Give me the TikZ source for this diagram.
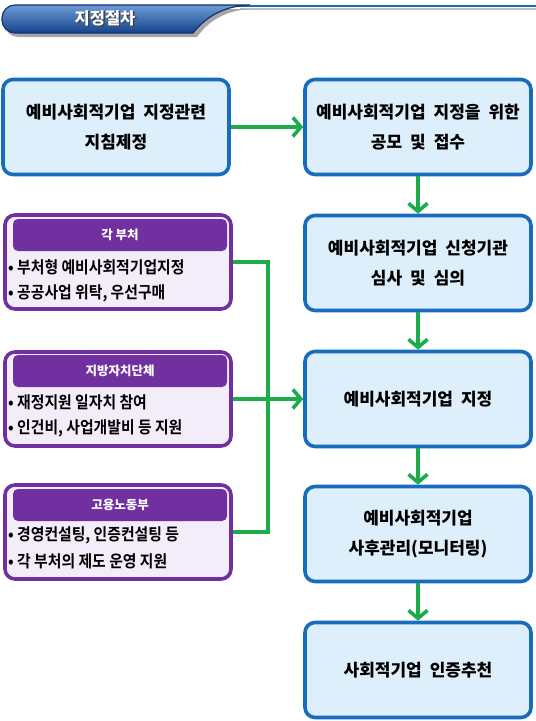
\documentclass[tikz,border=0pt]{standalone}
\usepackage{fontspec}
\setmainfont{Noto Sans CJK KR}
\newfontfamily\narrowkr{Noto Sans CJK KR Bold}[FakeStretch=0.9]
\newcommand\widesp{\spaceskip=8pt plus 2pt\relax}
\usepackage{tikz}
\usetikzlibrary{arrows.meta}
\definecolor{stepblue}{RGB}{24,108,190}
\definecolor{stepfill}{RGB}{222,239,252}
\definecolor{orgpurple}{RGB}{112,48,160}
\definecolor{orgfill}{RGB}{243,237,249}
\definecolor{flowgreen}{RGB}{28,172,76}
\definecolor{bannerhi}{RGB}{110,155,215}
\definecolor{bannerlo}{RGB}{20,66,138}
\tikzset{
  stepbox/.style={draw=stepblue,fill=stepfill,line width=3.6pt,rounded corners=10pt,
    minimum width=226pt,minimum height=95pt,align=center,inner sep=0pt,
    font={\fontsize{17pt}{30pt}\selectfont\bfseries\widesp}},
  orgbox/.style={draw=orgpurple,fill=orgfill,line width=3.6pt,rounded corners=10pt,
    minimum width=226pt,minimum height=94pt,inner sep=0pt},
  orghead/.style={fill=orgpurple,rounded corners=5pt,minimum width=214pt,minimum height=32pt,
    inner sep=0pt,text=white,font=\fontsize{12.5pt}{14pt}\selectfont\bfseries},
  orgitem/.style={anchor=west,inner sep=0pt,font=\narrowkr\fontsize{16.5pt}{18pt}\selectfont},
  flow/.style={draw=flowgreen,line width=3.6pt},
  flowarrow/.style={flow,-{Straight Barb[length=8pt,width=19pt]}}
}

\begin{document}
\begin{tikzpicture}[x=1pt,y=-1pt]

      \useasboundingbox[fill=white] (0,0) rectangle (536,721);

      \fill[black!25] (240,8) -- (536,8) -- (536,10) -- (240,10) -- cycle;
      \draw[stepblue,line width=2pt] (230,6) -- (536,6);
      \fill[black!35,rounded corners=13pt] (104,37) -- (5,37) -- (5,9) -- (104,9)
        [sharp corners] -- (252,9) .. controls (224,10) and (208,22) .. (197,37) -- cycle;
      \shade[top color=bannerhi,bottom color=bannerlo,draw=bannerlo!80!black,line width=1.2pt,rounded corners=13pt]
        (100,33) -- (2,33) -- (2,5) -- (100,5)
        [sharp corners] -- (250,5) .. controls (222,6) and (205,18) .. (193,33) -- cycle;
      \node[text=black!75,font=\fontsize{16.5pt}{18pt}\selectfont\bfseries] (ttlshadow) at (106.5,19.5) {지정절차};
      \node[text=white,font=\fontsize{16.5pt}{18pt}\selectfont\bfseries] (ttl) at (105,18) {지정절차};

      \node[stepbox] (s0) at (116,127) {예비사회적기업 지정관련\\지침제정};
      \node[stepbox] (s1) at (418,127) {예비사회적기업 지정을 위한\\공모 및 접수};
      \node[stepbox] (s2) at (418,263) {예비사회적기업 신청기관\\심사 및 심의};
      \node[stepbox] (s3) at (418,399) {예비사회적기업 지정};
      \node[stepbox] (s4) at (418,534) {예비사회적기업\\사후관리(모니터링)};
      \node[stepbox] (s5) at (418,670) {사회적기업 인증추천};

      \node[orgbox] (o1) at (118,262) {};
      \node[orgbox] (o2) at (118,399) {};
      \node[orgbox] (o3) at (118,532) {};

      \node[orghead] (h1) at (120,235) {각 부처};
      \node[orghead] (h2) at (120,371) {지방자치단체};
      \node[orghead] (h3) at (120,505) {고용노동부};

      \node[orgitem] (i11) at (8,267) {• 부처형 예비사회적기업지정};
      \node[orgitem] (i12) at (8,293) {• 공공사업 위탁, 우선구매};
      \node[orgitem] (i21) at (8,402) {• 재정지원 일자치 참여};
      \node[orgitem] (i22) at (8,428) {• 인건비, 사업개발비 등 지원};
      \node[orgitem] (i31) at (8,535) {• 경영컨설팅, 인증컨설팅 등};
      \node[orgitem] (i32) at (8,561) {• 각 부처의 제도 운영 지원};

      \coordinate (join) at (268,399);

      \draw[flowarrow](s0)--(s1);
      \draw[flowarrow](s1)--(s2);
      \draw[flowarrow](s2)--(s3);
      \draw[flowarrow](s3)--(s4);
      \draw[flowarrow](s4)--(s5);
      \draw[flow](o1.east)-|(join);
      \draw[flow](o3.east)-|(join);
      \draw[flowarrow](o2.east)--(s3.west);
    \end{tikzpicture}
\end{document}
